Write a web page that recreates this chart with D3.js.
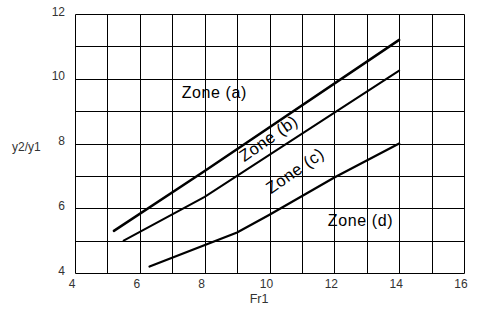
<!DOCTYPE html>
<html>
<head>
<meta charset="utf-8">
<script src="https://cdn.jsdelivr.net/npm/d3@7"></script>
<style>
  body { margin: 0; background: #fff; }
  svg { display: block; }
</style>
</head>
<body>
<script>
const W = 478, H = 314;
const margin = { top: 14, right: 14, bottom: 41, left: 75 };

// axis setup
const xDomain = [4, 16];
const yDomain = [4, 12];
const xTickLabels = [4, 6, 8, 10, 12, 14, 16];
const yTickLabels = [4, 6, 8, 10, 12];

// zone boundary curves (Fr1, y2/y1)
const abX = [5.2, 8, 14];
const abY = [5.3, 7.15, 11.2];
const bcX = [5.5, 8, 14];
const bcY = [5.0, 6.35, 10.25];
const cdX = [6.3, 9, 10, 12, 14];
const cdY = [4.2, 5.25, 5.8, 6.95, 8.0];

// zone labels, anchored in data units
const zoneNames = ["Zone (a)", "Zone (b)", "Zone (c)", "Zone (d)"];
const zoneX = [7.29, 9.22, 10.05, 11.8];
const zoneY = [9.4, 7.42, 6.43, 5.45];
const zoneAngle = [0, -35, -35, 0];
const zoneSize = [16, 16.5, 16.5, 16];

const svg = d3.select("body").append("svg")
  .attr("width", W)
  .attr("height", H);

const x = d3.scaleLinear().domain(xDomain).range([margin.left, W - margin.right]);
const y = d3.scaleLinear().domain(yDomain).range([H - margin.bottom, margin.top]);
const snap = (v) => Math.round(v) + 0.5;

// grid
const grid = svg.append("g").attr("stroke", "#000").attr("stroke-width", 1);
grid.selectAll("line.v")
  .data(d3.range(xDomain[0], xDomain[1] + 1))
  .enter().append("line")
  .attr("x1", (d) => snap(x(d))).attr("x2", (d) => snap(x(d)))
  .attr("y1", snap(y(yDomain[0]))).attr("y2", snap(y(yDomain[1])));
grid.selectAll("line.h")
  .data(d3.range(yDomain[0], yDomain[1] + 1))
  .enter().append("line")
  .attr("y1", (d) => snap(y(d))).attr("y2", (d) => snap(y(d)))
  .attr("x1", snap(x(xDomain[0]))).attr("x2", snap(x(xDomain[1])));

// tick labels
svg.append("g")
  .attr("font-family", "Liberation Sans, Arial, sans-serif")
  .attr("font-size", 12)
  .attr("fill", "#333")
  .selectAll("text")
  .data(yTickLabels)
  .enter().append("text")
  .attr("x", x(xDomain[0]) - 10)
  .attr("y", (d) => y(d) + 1.5)
  .attr("text-anchor", "end")
  .text((d) => d);

svg.append("g")
  .attr("font-family", "Liberation Sans, Arial, sans-serif")
  .attr("font-size", 12)
  .attr("fill", "#333")
  .selectAll("text")
  .data(xTickLabels)
  .enter().append("text")
  .attr("x", (d) => x(d) - 3)
  .attr("y", 288)
  .attr("text-anchor", "middle")
  .text((d) => d);

// axis titles
svg.append("text")
  .attr("x", 259).attr("y", 303)
  .attr("text-anchor", "middle")
  .attr("font-family", "Liberation Sans, Arial, sans-serif")
  .attr("font-size", 12.5)
  .attr("fill", "#333")
  .text("Fr1");

svg.append("text")
  .attr("x", 12).attr("y", 151)
  .attr("font-family", "Liberation Sans, Arial, sans-serif")
  .attr("font-size", 12)
  .attr("fill", "#333")
  .text("y2/y1");

// boundary curves
const line = d3.line().x((d) => x(d[0])).y((d) => y(d[1]));
const curves = [
  { xs: abX, ys: abY, w: 2.5 },
  { xs: bcX, ys: bcY, w: 2 },
  { xs: cdX, ys: cdY, w: 2.3 },
];
svg.append("g")
  .attr("fill", "none")
  .attr("stroke", "#000")
  .selectAll("path")
  .data(curves)
  .enter().append("path")
  .attr("stroke-width", (d) => d.w)
  .attr("stroke-linecap", "round")
  .attr("d", (d) => line(d.xs.map((v, i) => [v, d.ys[i]])));

// zone labels
svg.append("g")
  .attr("font-family", "Liberation Sans, Arial, sans-serif")
  .attr("letter-spacing", 0.6)
  .attr("fill", "#000")
  .selectAll("text")
  .data(zoneNames)
  .enter().append("text")
  .attr("font-size", (d, i) => zoneSize[i])
  .attr("transform", (d, i) =>
    `translate(${x(zoneX[i])},${y(zoneY[i])}) rotate(${zoneAngle[i]})`)
  .text((d) => d);
</script>
</body>
</html>
